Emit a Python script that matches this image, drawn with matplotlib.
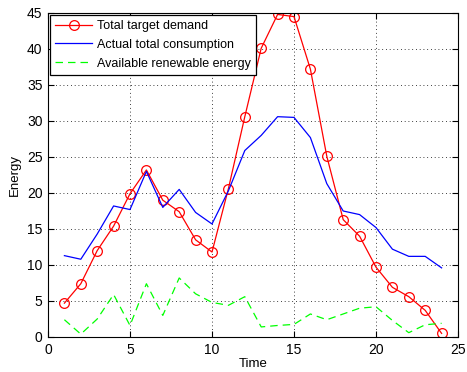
import numpy as np
import matplotlib
matplotlib.use("Agg")
import matplotlib.pyplot as plt

plt.rcParams['font.family'] = ['Liberation Sans', 'DejaVu Sans']
plt.rcParams['font.size'] = 9.5

# data
time = list(range(1, 25))
target_demand = [4.7, 7.4, 12.0, 15.4, 19.9, 23.2, 19.0, 17.4, 13.5, 11.8, 20.6, 30.6,
                 40.1, 44.8, 44.5, 37.2, 25.1, 16.3, 14.0, 9.7, 6.9, 5.6, 3.7, 0.5]
consumption = [11.3, 10.8, 14.3, 18.2, 17.7, 23.0, 18.0, 20.5, 17.3, 15.7, 20.3, 25.9,
               28.0, 30.6, 30.5, 27.7, 21.3, 17.5, 17.0, 15.2, 12.2, 11.2, 11.2, 9.6]
renewable = [2.4, 0.4, 2.5, 5.9, 1.6, 7.4, 3.0, 8.2, 6.0, 4.8, 4.4, 5.6,
             1.4, 1.6, 1.75, 3.2, 2.4, 3.2, 4.0, 4.2, 2.3, 0.6, 1.7, 1.9]

fig = plt.figure(figsize=(4.67, 3.72), dpi=100)
ax = fig.add_axes([48/467, 1 - 337/372, 410/467, 324/372])

ax.plot(time, target_demand, color='red', lw=0.9, marker='o', ms=7,
        mfc='none', mec='red', mew=0.9, label='Total target demand')
ax.plot(time, consumption, color='blue', lw=0.9, label='Actual total consumption')
ax.plot(time, renewable, color='#00ff00', lw=0.9, ls=(0, (6, 4)),
        label='Available renewable energy')

ax.set_xlim(0, 25)
ax.set_ylim(0, 45)
ax.set_xticks(range(0, 26, 5))
ax.set_yticks(range(0, 46, 5))
ax.grid(True, color='black', ls=(0, (1, 3.5)), lw=0.6)
ax.tick_params(direction='in', top=True, right=True, length=4, labelsize=10, pad=4)
ax.set_xlabel('Time', labelpad=1)
ax.set_ylabel('Energy', labelpad=4)

leg = ax.legend(loc='upper left', fancybox=False, edgecolor='black',
                framealpha=1, borderaxespad=0.15, handlelength=3.0,
                handletextpad=0.4, borderpad=0.4, labelspacing=0.55, fontsize=9)
leg.get_frame().set_linewidth(0.9)

fig.savefig('out.png', dpi=100)
